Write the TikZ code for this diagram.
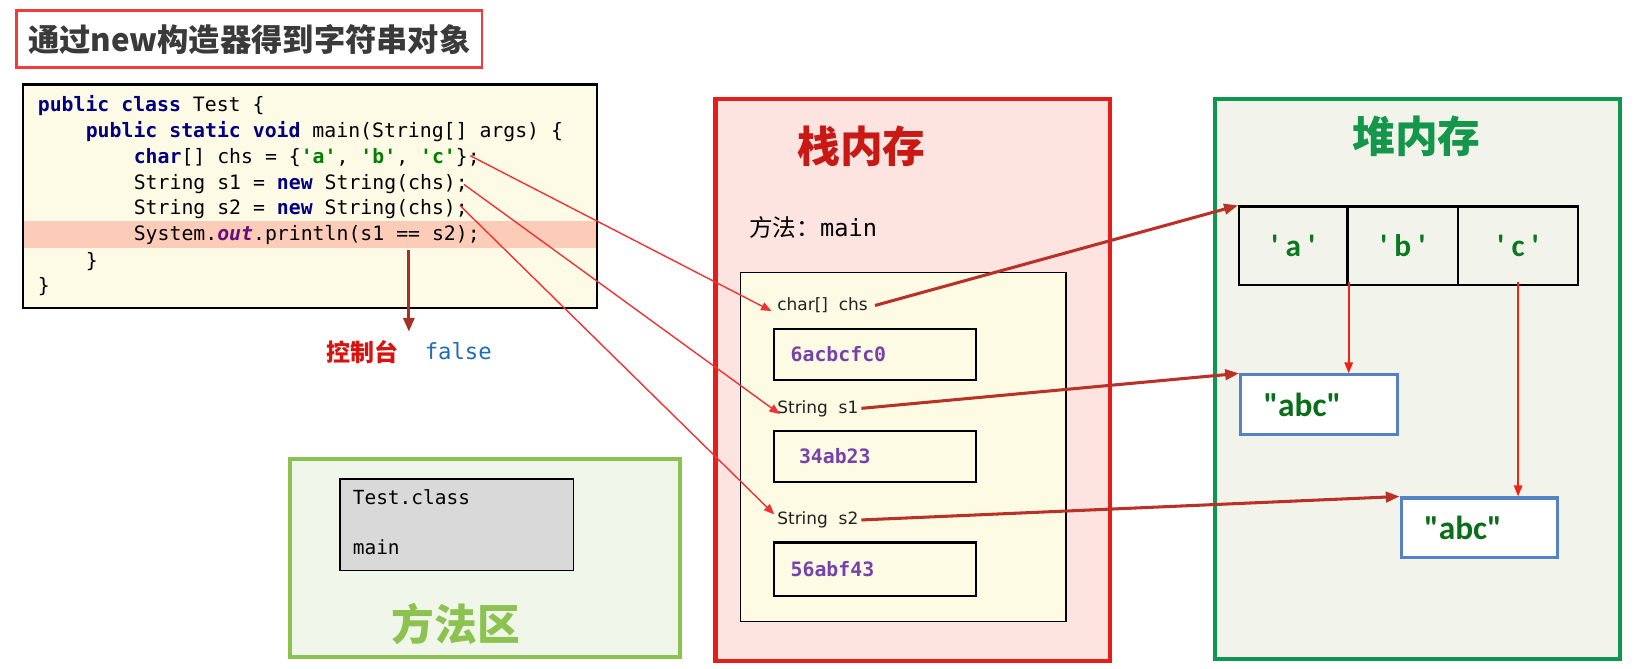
\documentclass[tikz,border=0pt]{standalone}
\usepackage{fontspec}
\usepackage{tikz}
\usetikzlibrary{arrows.meta}
\newfontfamily\cjkfont{Noto Sans CJK SC}
\newfontfamily\codefont{DejaVu Sans Mono}
\newfontfamily\labelfont{DejaVu Sans}
\newfontfamily\abcfont{Carlito}
\newcommand{\kw}[1]{\textcolor[RGB]{0,0,128}{\textbf{#1}}}
\newcommand{\chr}[1]{\textcolor[RGB]{0,128,0}{\textbf{#1}}}
\newcommand{\fld}[1]{\textcolor[RGB]{102,14,122}{\textbf{\itshape #1}}}

\begin{document}
\begin{tikzpicture}[x=0.75pt,y=0.75pt,yscale=-1,xscale=1,
  codeline/.style={anchor=base west, inner sep=0, font=\codefont\fontsize{14.25}{17}\selectfont},
  varlabel/.style={anchor=base west, inner sep=0, text={rgb, 255:red, 34; green, 34; blue, 34 }, font=\labelfont\fontsize{12.2}{14}\selectfont},
  valbox/.style={draw, line width=1.6pt, anchor=north west, minimum width=145.5pt, minimum height=36.75pt, text width=121.5pt, align=left, inner xsep=12pt, text={rgb, 255:red, 118; green, 66; blue, 172 }, font=\codefont\bfseries\fontsize{14.25}{17}\selectfont},
  cell/.style={draw, line width=1.6pt, minimum height=56.25pt, text={rgb, 255:red, 10; green, 120; blue, 30 }, font=\abcfont\bfseries\fontsize{22.5}{26}\selectfont},
  strbox/.style={draw={rgb, 255:red, 84; green, 130; blue, 196 }, fill=white, line width=2.2pt, anchor=north west, minimum width=112.5pt, minimum height=42.75pt, text width=79.5pt, align=left, inner xsep=16.5pt, text={rgb, 255:red, 10; green, 110; blue, 25 }, font=\abcfont\bfseries\fontsize{24}{28}\selectfont},
  areatitle/.style={inner sep=0, font=\cjkfont\bfseries\fontsize{30.75}{34}\selectfont},
  callarrow/.style={draw={rgb, 255:red, 240; green, 50; blue, 50 }, line width=1pt, -{Triangle[length=7.5pt,width=6pt]}},
  refarrow/.style={draw={rgb, 255:red, 185; green, 50; blue, 40 }, line width=2.2pt, -{Triangle[length=10pt,width=7.5pt]}},
  copyarrow/.style={draw={rgb, 255:red, 240; green, 35; blue, 20 }, line width=1.5pt, -{Triangle[length=8pt,width=6pt]}}
]
\path[use as bounding box, fill=white] (0,0) rectangle (1569.5,640.5);

%Shape: Rectangle [id:dp4417205963318842]
\node[draw={rgb, 255:red, 240; green, 60; blue, 60 }, line width=1.9pt, minimum width=334.5pt, minimum height=41.25pt, text={rgb, 255:red, 58; green, 58; blue, 58 }, font=\cjkfont\bfseries\fontsize{22.5}{26}\selectfont] (title) at (239,37.5) {通过new构造器得到字符串对象};

%Shape: Rectangle [id:dp7730492516081925]
\draw[line width=1.5pt, fill={rgb, 255:red, 253; green, 251; blue, 230 }] (22,81) rectangle (572,295);
\fill[fill={rgb, 255:red, 252; green, 204; blue, 184 }] (23,212) rectangle (571,238);
\node[codeline] (ln1) at (36,107) {\kw{public} \kw{class} Test \{};
\node[codeline] (ln2) at (82,132) {\kw{public} \kw{static} \kw{void} main(String[] args) \{};
\node[codeline] (ln3) at (128,157) {\kw{char}[] chs = \{\chr{'a'}, \chr{'b'}, \chr{'c'}\};};
\node[codeline] (ln4) at (128,182) {String s1 = \kw{new} String(chs);};
\node[codeline] (ln5) at (128,206) {String s2 = \kw{new} String(chs);};
\node[codeline] (ln6) at (128,231) {System.\fld{out}.println(s1 == s2);};
\node[codeline] (ln7) at (82,256) {\}};
\node[codeline] (ln8) at (36,280) {\}};

%Straight Lines [id:da2186930415770316]
\coordinate (printfrom) at (392,240);
\coordinate (printto) at (392,318);
\draw[draw={rgb, 255:red, 160; green, 50; blue, 40 }, line width=2.2pt, -{Triangle[length=10pt,width=8pt]}] (printfrom) -- (printto);
\node[anchor=base west, inner sep=0, text={rgb, 255:red, 215; green, 20; blue, 15 }, font=\cjkfont\bfseries\fontsize{17.25}{20}\selectfont] (console) at (313,347) {控制台};
\node[anchor=base west, inner sep=0, text={rgb, 255:red, 30; green, 110; blue, 180 }, font=\codefont\fontsize{16}{19}\selectfont] (result) at (407,345) {false};

%Shape: Rectangle [id:dp9051463287712264]
\draw[line width=3pt, draw={rgb, 255:red, 140; green, 195; blue, 80 }, fill={rgb, 255:red, 241; green, 246; blue, 235 }] (278,440) rectangle (652,630);
\draw[line width=1.1pt, fill={rgb, 255:red, 217; green, 217; blue, 217 }] (326,459) rectangle (550,547);
\node[anchor=base west, inner sep=0, font=\codefont\fontsize{14}{17}\selectfont] (clsname) at (338,484) {Test.class};
\node[anchor=base west, inner sep=0, font=\codefont\fontsize{14}{17}\selectfont] (clsmain) at (338,532) {main};
\node[areatitle, text={rgb, 255:red, 140; green, 195; blue, 80 }] (methodtitle) at (437,598) {方法区};

%Shape: Rectangle [id:dp3368104725183311]
\draw[line width=3pt, draw={rgb, 255:red, 230; green, 30; blue, 25 }, fill={rgb, 255:red, 253; green, 228; blue, 225 }] (686,95) rectangle (1064,634);
\node[areatitle, text={rgb, 255:red, 200; green, 25; blue, 20 }] (stacktitle) at (826,140) {栈内存};
\node[anchor=base west, inner sep=0, font=\fontsize{17}{20}\selectfont] (frametitle) at (718,227) {\cjkfont 方法：\codefont main};
\draw[line width=1pt, fill={rgb, 255:red, 253; green, 251; blue, 228 }] (710,261) rectangle (1022,596);
\node[varlabel] (vchs) at (745,298) {char[]\ \ chs};
\node[valbox] (pchs) at (741,314) {6acbcfc0};
\node[varlabel] (vs1) at (745,396) {String\ \ s1};
\node[valbox] (ps1) at (741,412) {\hspace{6pt}34ab23};
\node[varlabel] (vs2) at (745,503) {String\ \ s2};
\node[valbox, minimum height=38.25pt] (ps2) at (741,519) {56abf43};

%Shape: Rectangle [id:dp5581204637719064]
\draw[line width=3pt, draw={rgb, 255:red, 16; green, 150; blue, 80 }, fill={rgb, 255:red, 242; green, 244; blue, 236 }] (1165,95) rectangle (1553,632);
\node[areatitle, text={rgb, 255:red, 20; green, 150; blue, 75 }] (heaptitle) at (1358,131) {堆内存};
\node[cell, minimum width=78pt] (ca) at (1240,235.5) {' a '};
\node[cell, minimum width=79.5pt] (cb) at (1345,235.5) {' b '};
\node[cell, minimum width=86.25pt] (cc) at (1455.5,235.5) {' c '};
\node[strbox] (str1) at (1188,358) {"abc"};
\node[strbox] (str2) at (1342,476) {"abc"};

%Straight Lines [id:da6620378149057243]
\draw[callarrow] ([xshift=-7pt,yshift=-1.5pt]ln3.east) -- ([xshift=-4pt,yshift=4pt]vchs.west);
\draw[callarrow] ([xshift=-3pt]ln4.east) -- ([xshift=2pt,yshift=-2pt]vs1.south west);
\draw[callarrow] ([xshift=-6pt,yshift=-3pt]ln5.east) -- ([xshift=-2pt,yshift=-4pt]vs2.west);
%Straight Lines [id:da0943315762284107]
\draw[refarrow] ([xshift=5pt]vchs.east) -- (ca.north west);
\draw[refarrow] ([xshift=2pt]vs1.east) -- (str1.north west);
\draw[refarrow] ([xshift=2pt]vs2.east) -- (str2.north west);
%Straight Lines [id:da7715203948862130]
\draw[copyarrow] ([yshift=-3pt]ca.south east) -- (ca.south east |- str1.north);
\draw[copyarrow] ([yshift=-3pt]cc.south) -- (cc.south |- str2.north);
\end{tikzpicture}
\end{document}
